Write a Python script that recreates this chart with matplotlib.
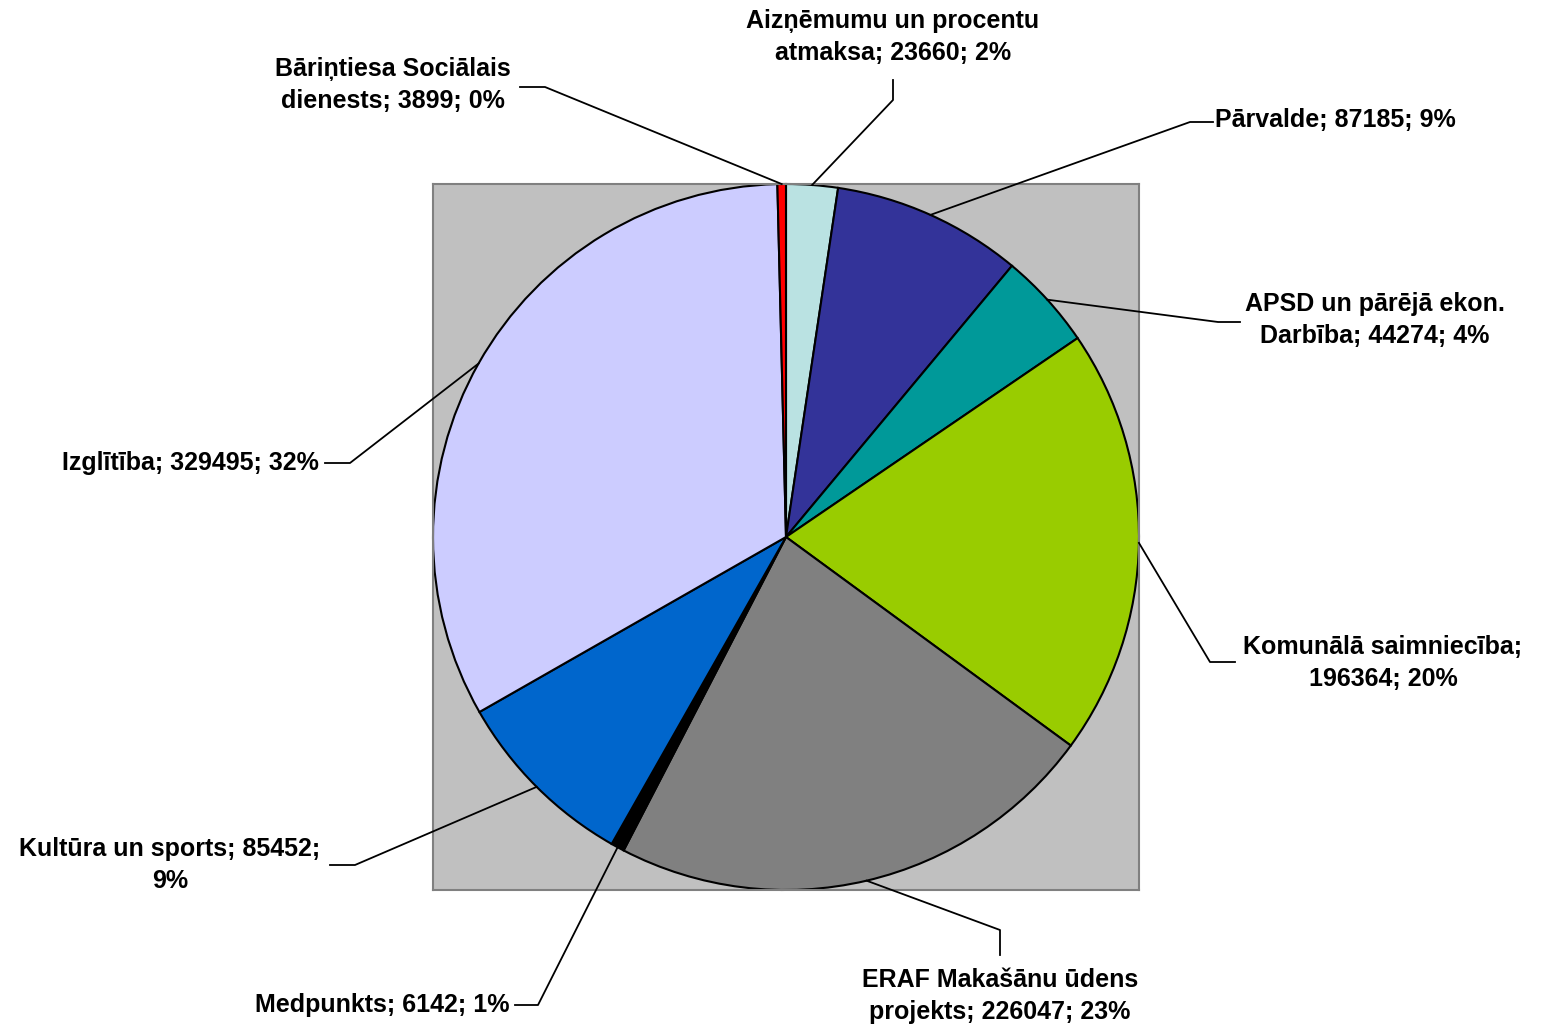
import numpy as np
import matplotlib
matplotlib.use('Agg')
import matplotlib.pyplot as plt

plt.rcParams['font.family'] = ['Liberation Sans', 'DejaVu Sans']

names = ['Aizņēmumu un procentu\natmaksa', 'Pārvalde', 'APSD un pārējā ekon.\nDarbība',
         'Komunālā saimniecība;\n', 'ERAF Makašānu ūdens\nprojekts', 'Medpunkts',
         'Kultūra un sports; 85452;\n', 'Izglītība', 'Bāriņtiesa Sociālais\ndienests']
values = [23660, 87185, 44274, 196364, 226047, 6142, 85452, 329495, 3899]
pcts = ['2%', '9%', '4%', '20%', '23%', '1%', '9%', '32%', '0%']
colors = ['#BAE2E2', '#333399', '#009999', '#99CC00', '#808080', '#000000',
          '#0066CC', '#CCCCFF', '#FF0000']

labels = []
for n, v, p in zip(names, values, pcts):
    if n.endswith(';\n'):
        if 'Kult' in n:
            labels.append(n + p)
        else:
            labels.append(n + '%d; %s' % (v, p))
    else:
        labels.append('%s; %d; %s' % (n, v, p))

# label layout (pixel positions in the figure): text anchor, elbow, end of horizontal tick
W, H = 1541, 1029
cx, cy, R = 786, 537, 353
layout = [
    ((893, 37), 'center', (893, 100), (893, 80)),
    ((1215, 120), 'left', (1190, 122), (1213, 122)),
    ((1375, 320), 'center', (1218, 322), (1240, 322)),
    ((1383, 663), 'center', (1210, 662), (1235, 662)),
    ((1000, 996), 'center', (1000, 930), (1000, 955)),
    ((382, 1005), 'center', (538, 1005), (515, 1005)),
    ((170, 865), 'center', (355, 865), (330, 865)),
    ((190, 463), 'center', (350, 463), (325, 463)),
    ((393, 85), 'center', (545, 87), (520, 87)),
]

fig = plt.figure(figsize=(W / 100, H / 100), dpi=100)
ax = fig.add_axes([(cx - R) / W, 1 - (cy + R) / H, 2 * R / W, 2 * R / H])

wedges, _ = ax.pie(values, colors=colors, startangle=90, counterclock=False,
                   radius=1, wedgeprops=dict(edgecolor='black', linewidth=1.5))
ax.set_frame_on(True)
ax.axis('on')
ax.set_facecolor('#C0C0C0')
for s in ax.spines.values():
    s.set_color('#808080')
    s.set_linewidth(1.5)
ax.set_xlim(-1, 1)
ax.set_ylim(-1, 1)
ax.set_aspect('equal')
ax.set_xticks([])
ax.set_yticks([])

def to_fig(p):
    return (p[0] / W, 1 - p[1] / H)

for w, lab, (txy, ha, elbow, tick) in zip(wedges, labels, layout):
    ang = np.deg2rad((w.theta1 + w.theta2) / 2)
    px = cx + R * np.cos(ang)
    py = cy - R * np.sin(ang)
    pts = [to_fig((px, py)), to_fig(elbow), to_fig(tick)]
    fig.add_artist(plt.Line2D([p[0] for p in pts], [p[1] for p in pts],
                              color='black', lw=1.3, transform=fig.transFigure))
    fig.text(txy[0] / W, 1 - txy[1] / H, lab, ha=ha, va='center',
             multialignment='center', fontsize=18, fontweight='bold',
             linespacing=1.45)

fig.savefig('out.png', dpi=100, facecolor='white')
